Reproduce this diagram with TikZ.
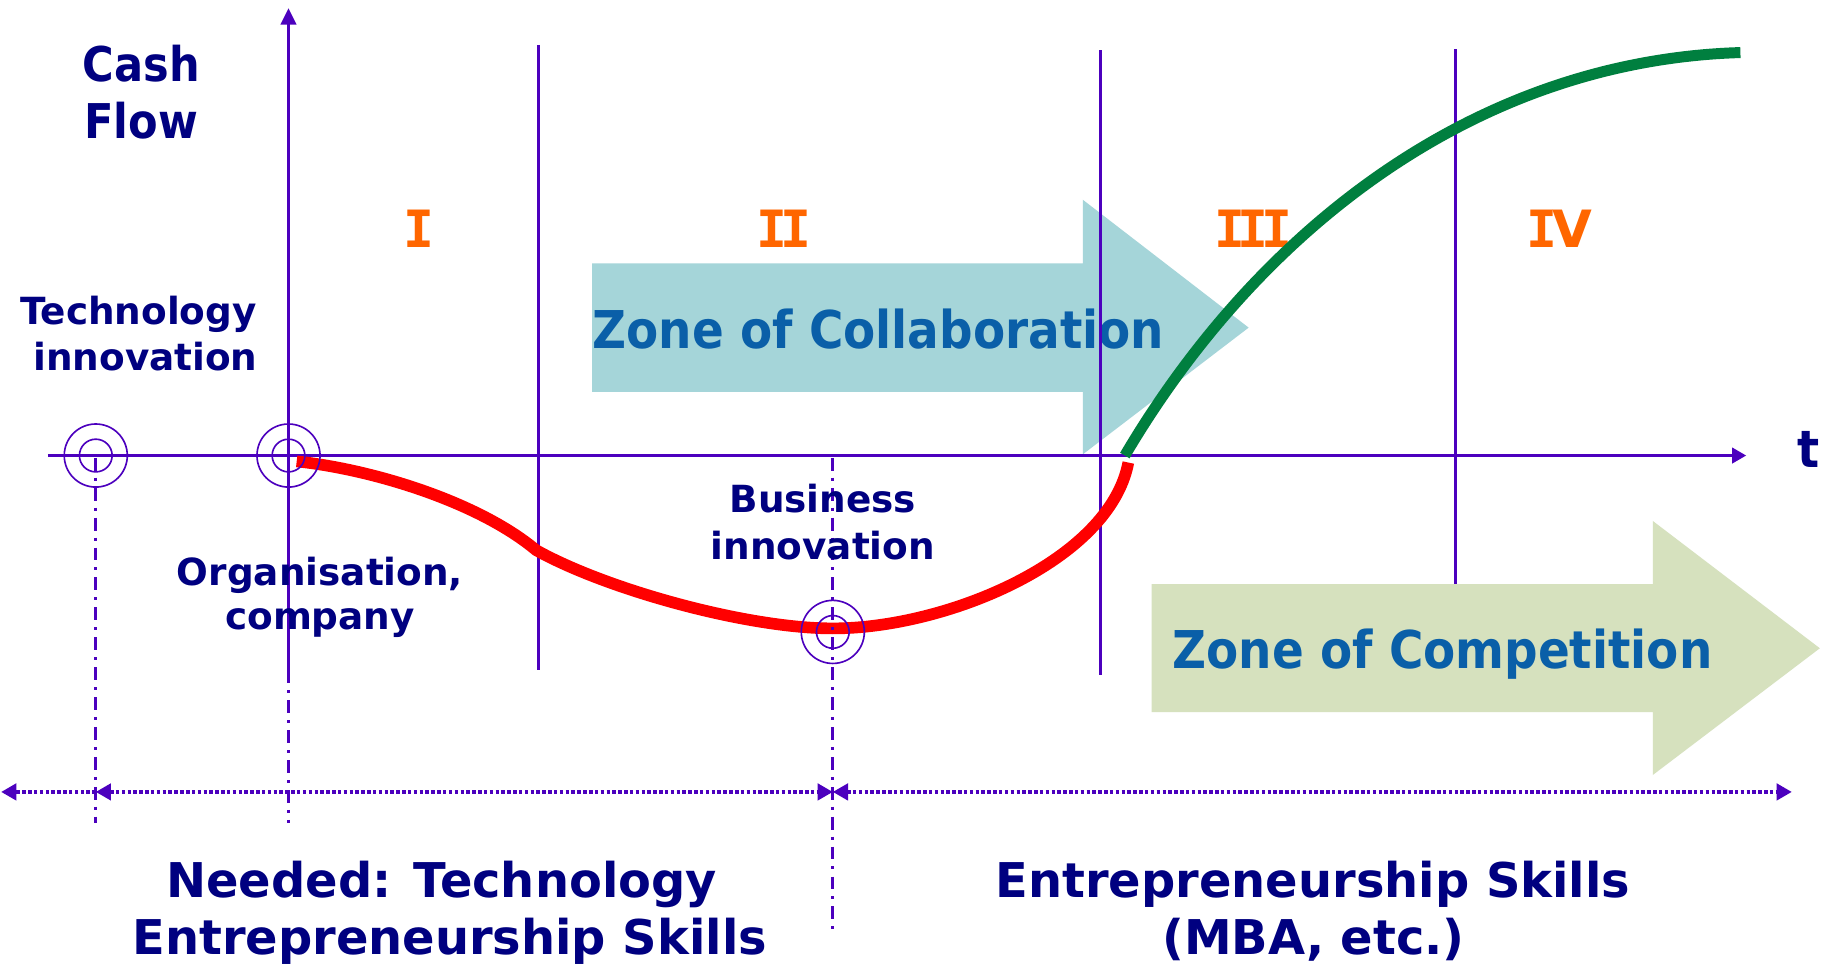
\documentclass[tikz,border=0pt]{standalone}
\usepackage{fontspec}
\setmainfont{DejaVu Sans}
\newfontfamily\tahf[FakeStretch=0.9]{DejaVu Sans}
\newfontfamily\monof{DejaVu Sans Mono}
\usetikzlibrary{arrows.meta}
\definecolor{axiscol}{RGB}{76,0,190}
\definecolor{navytxt}{RGB}{0,0,128}
\definecolor{zoneblue}{RGB}{10,95,168}
\definecolor{numorange}{RGB}{255,102,0}
\definecolor{collabfill}{RGB}{165,213,217}
\definecolor{compfill}{RGB}{214,225,190}
\definecolor{curvegreen}{RGB}{0,127,63}
\begin{document}
\begin{tikzpicture}[x=0.5pt,y=-0.5pt,
  >={Triangle[length=6.5pt,width=7pt]},
  axisline/.style={draw=axiscol,line width=1.3pt},
  divline/.style={draw=axiscol,line width=1.1pt},
  dashdotline/.style={draw=axiscol,line width=1.3pt,dash pattern=on 5.5pt off 3pt on 1.3pt off 3pt},
  dotline/.style={draw=axiscol,line width=1.5pt,dash pattern=on 1.5pt off 1pt},
  target/.style={draw=axiscol,line width=0.7pt},
  lbl/.style={inner sep=0pt,anchor=base,text=navytxt,font=\bfseries\fontsize{16}{19}\selectfont},
  biglbl/.style={inner sep=0pt,anchor=base,text=navytxt,font=\bfseries\fontsize{20.5}{25}\selectfont},
  cashlbl/.style={inner sep=0pt,anchor=base,text=navytxt,font=\tahf\bfseries\fontsize{20.5}{24}\selectfont},
  zonelbl/.style={inner sep=0pt,anchor=base,text=zoneblue,font=\tahf\bfseries\fontsize{22.3}{26}\selectfont},
  numlbl/.style={inner sep=0pt,anchor=base,text=numorange,font=\bfseries\fontsize{22}{26}\selectfont},
  redcurve/.style={draw=red,line width=5pt},
  greencurve/.style={draw=curvegreen,line width=4.7pt}
]
\useasboundingbox (0,0) rectangle (1565,828);
\fill[white] (0,0) rectangle (1565,828);

% zone of collaboration arrow
\fill[collabfill] (507,225.5) -- (927,225.5) -- (927,171) -- (1069,280.5) -- (927,389) -- (927,335.5) -- (507,335.5) -- cycle;
\node[zonelbl] (zcollab) at (752,298) {Zone of Collaboration};

% roman numerals
\node[numlbl] (n1) at (359,211.5) {\monof I};
\node[numlbl] (n2) at (671,211.5) {\monof I\kern-0.14em I};
\node[numlbl] (n3) at (1073,211.5) {\monof I\kern-0.14em I\kern-0.14em I};
\node[numlbl] (n4) at (1335,211.5) {{\monof I}\kern-0.08em V};

% axes and dividers
\coordinate (o) at (247,390);
\coordinate (ytop) at (247,7);
\coordinate (ybot) at (247,574);
\coordinate (xl) at (41,390);
\coordinate (xr) at (1495,390);
\draw[divline] (461,38.5) -- (461,574);
\draw[divline] (942,43) -- (942,578);
\draw[divline] (1246,42) -- (1246,578);
\draw[axisline,-{Triangle[length=7pt,width=6.5pt]}] (ybot) -- (ytop);
\draw[axisline,-{Triangle[length=6pt,width=6.5pt]}] (xl) -- (xr);

% zone of competition arrow
\fill[compfill] (986,500) -- (1415,500) -- (1415,446) -- (1558,555) -- (1415,663.5) -- (1415,609.6) -- (986,609.6) -- cycle;
\node[zonelbl] (zcomp) at (1235,572) {Zone of Competition};

% cash flow curves
\coordinate (r0) at (254,395);
\coordinate (r1) at (459,471);
\coordinate (rmin) at (713,538);
\coordinate (r3) at (966,396);
\draw[redcurve] (r0) .. controls (320,402) and (410,430) .. (r1)
  .. controls (520,505) and (640,538) .. (rmin)
  .. controls (810,538) and (950,480) .. (r3);
\coordinate (g0) at (963,390);
\coordinate (g1) at (1490,45);
\draw[greencurve] (g0) .. controls (1075,200) and (1260,52) .. (g1);

% markers
\coordinate (m1) at (82,390);
\coordinate (m2) at (247,390);
\coordinate (m3) at (713,541);
\foreach \m in {m1,m2,m3}{
  \draw[target] (\m) circle[radius=27];
  \draw[target] (\m) circle[radius=14];
}
\draw[dashdotline] (82,392) -- (82,705);
\draw[dashdotline] (247,574) -- (247,705);
\draw[dashdotline] (713,392) -- (713,800);

% skills range arrows
\coordinate (d0) at (1,678);
\coordinate (d1) at (82,678);
\coordinate (d2) at (713,678);
\coordinate (d3) at (1534,678);
\draw[dotline,->] (d1) -- (d0);
\draw[dotline,<->] (d1) -- (d2);
\draw[dotline,<->] (d2) -- (d3);

% labels
\node[cashlbl] (cash) at (121,70) {Cash};
\node[cashlbl] (flow) at (121,118.5) {Flow};
\node[cashlbl,font=\tahf\bfseries\fontsize{22}{26}\selectfont] (t) at (1548,400) {t};
\node[lbl] (tech1) at (118.5,278) {Technology};
\node[lbl] (tech2) at (124.5,317) {innovation};
\node[lbl] (org1) at (274,501) {Organisation,};
\node[lbl] (org2) at (274,539) {company};
\node[lbl] (bus1) at (704.5,439) {Business};
\node[lbl] (bus2) at (704.5,479) {innovation};
\node[biglbl] (need1) at (378,768) {Needed: Technology};
\node[biglbl] (need2) at (385,817.6) {Entrepreneurship Skills};
\node[biglbl] (ent1) at (1124,768) {Entrepreneurship Skills};
\node[biglbl] (ent2) at (1124.5,817.6) {(MBA, etc.)};
\end{tikzpicture}
\end{document}
